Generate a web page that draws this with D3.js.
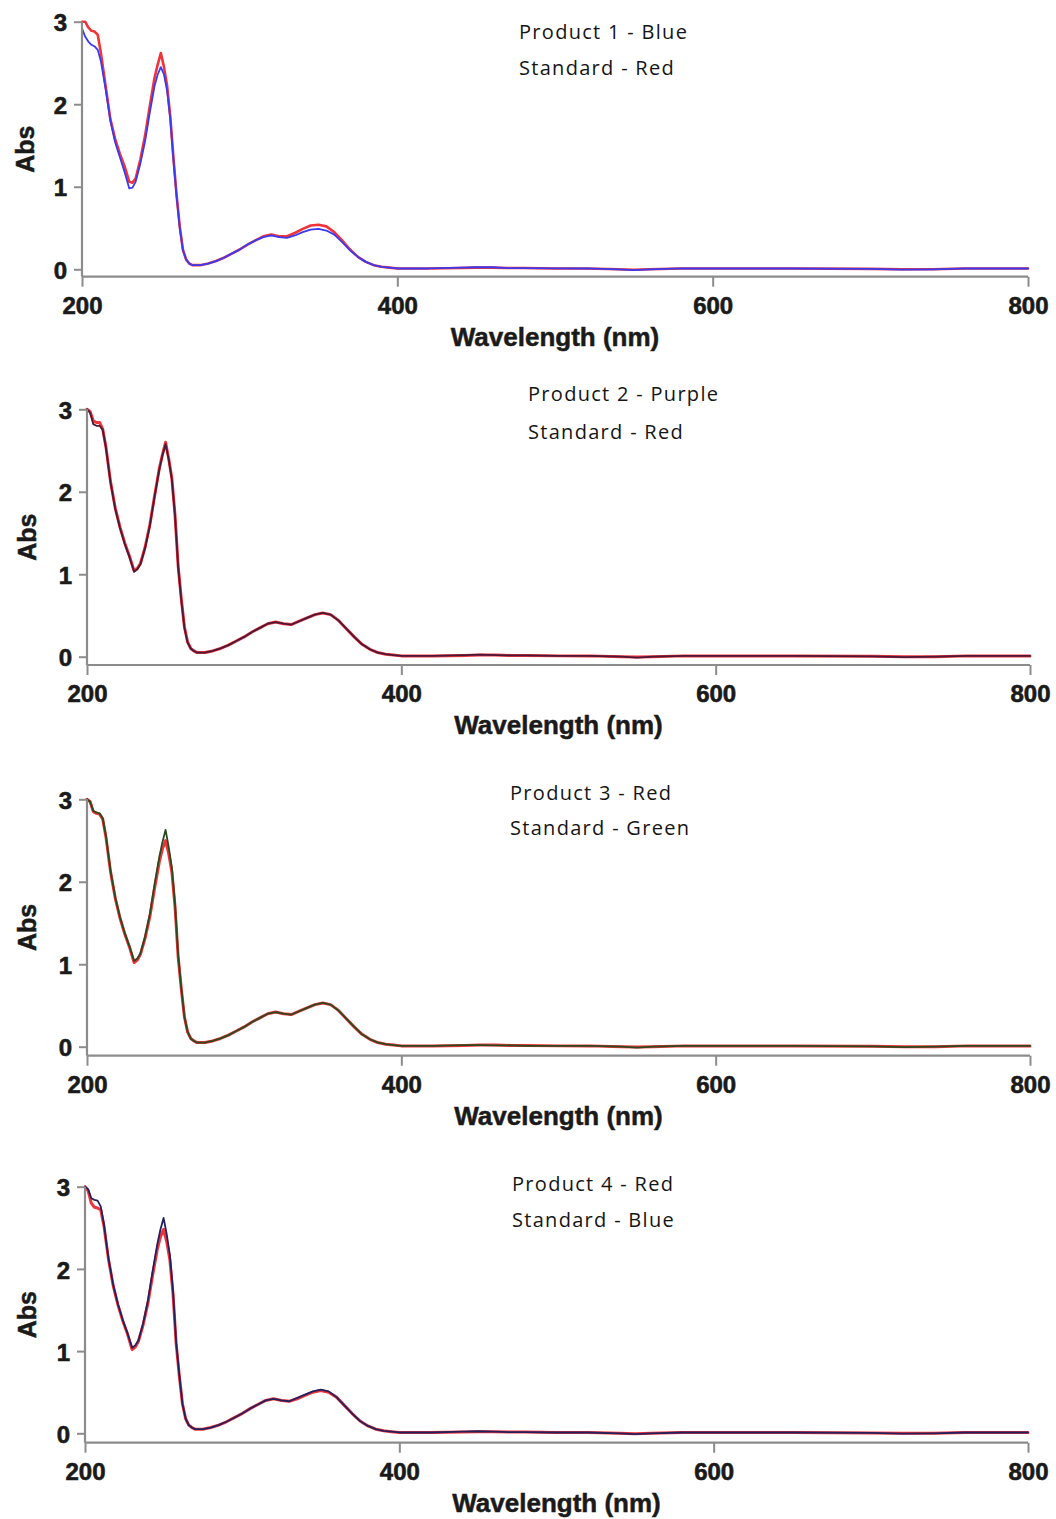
<!DOCTYPE html>
<html><head><meta charset="utf-8">
<script src="https://cdn.jsdelivr.net/npm/d3@7"></script>
<style>body{margin:0;background:#fff}</style>
</head><body>
<svg id="chart" width="1056" height="1519"></svg>
<script>
// ---------- DATA ----------
const wavelengths = [200,202,204,206,208,210,212,215,218,221,224,227,230,232,234,237,240,243,246,248,250,252,254,256,258,260,262,264,266,268,270,275,280,285,290,295,300,305,310,315,320,325,330,335,340,345,350,355,360,365,370,375,380,385,390,395,400,420,440,450,460,470,480,500,520,540,550,560,580,600,650,700,720,740,760,800];
const xTicks = [200,400,600,800];
const yTicks = [0,1,2,3];

const p1Product = [2.92,2.82,2.76,2.72,2.70,2.66,2.52,2.18,1.80,1.54, 1.36,1.18,0.98,0.99,1.06,1.28,1.55,1.90,2.22,2.36, 2.45,2.36,2.16,1.82,1.32,0.88,0.50,0.23,0.12,0.07, 0.05,0.05,0.07,0.10,0.14,0.19,0.24,0.30,0.35,0.39, 0.41,0.39,0.38,0.41,0.45,0.48,0.49,0.47,0.42,0.33, 0.23,0.15,0.09,0.05,0.03,0.02,0.01,0.01,0.02,0.025, 0.025,0.015,0.015,0.01,0.01,0.0,-0.01,0.0,0.01,0.01, 0.01,0.005,-0.005,0.0,0.01,0.01];
const p1Standard = [3.00,3.00,2.93,2.89,2.88,2.84,2.62,2.22,1.82,1.58, 1.40,1.25,1.06,1.05,1.10,1.33,1.62,1.98,2.32,2.48, 2.62,2.45,2.22,1.85,1.35,0.90,0.52,0.24,0.12,0.07, 0.05,0.05,0.07,0.10,0.14,0.19,0.24,0.30,0.35,0.40, 0.42,0.40,0.40,0.44,0.49,0.53,0.54,0.52,0.45,0.35, 0.24,0.15,0.09,0.05,0.03,0.02,0.01,0.01,0.015,0.02, 0.02,0.015,0.015,0.01,0.01,0.0,-0.005,0.0,0.01,0.01, 0.01,0.005,0.0,0.0,0.01,0.01];

const p2Product = [3.00,2.96,2.82,2.80,2.80,2.75,2.54,2.11,1.79,1.56, 1.37,1.21,1.03,1.06,1.12,1.32,1.59,1.94,2.27,2.44, 2.58,2.39,2.15,1.71,1.09,0.69,0.35,0.17,0.10,0.07, 0.05,0.05,0.07,0.10,0.14,0.19,0.24,0.30,0.35,0.40, 0.42,0.40,0.39,0.43,0.47,0.51,0.53,0.51,0.44,0.34, 0.24,0.15,0.09,0.05,0.03,0.02,0.01,0.01,0.02,0.025, 0.02,0.015,0.015,0.01,0.01,0.0,-0.01,0.0,0.01,0.01, 0.01,0.005,-0.005,0.0,0.01,0.01];
const p2Standard = [3.00,2.97,2.86,2.84,2.84,2.76,2.55,2.12,1.80,1.57, 1.38,1.22,1.04,1.07,1.13,1.33,1.60,1.95,2.28,2.45, 2.60,2.40,2.16,1.72,1.10,0.70,0.36,0.18,0.10,0.07, 0.05,0.05,0.07,0.10,0.14,0.19,0.24,0.30,0.35,0.40, 0.42,0.40,0.39,0.43,0.47,0.51,0.53,0.51,0.44,0.34, 0.24,0.15,0.09,0.05,0.03,0.02,0.01,0.01,0.015,0.02, 0.02,0.015,0.015,0.01,0.01,0.0,-0.005,0.0,0.01,0.01, 0.01,0.005,0.0,0.0,0.01,0.01];

const p3Product = [3.00,2.97,2.85,2.83,2.82,2.76,2.55,2.12,1.80,1.56, 1.37,1.21,1.02,1.05,1.12,1.32,1.58,1.92,2.24,2.40, 2.50,2.34,2.12,1.70,1.09,0.70,0.36,0.18,0.10,0.07, 0.05,0.05,0.07,0.10,0.14,0.19,0.24,0.30,0.35,0.40, 0.42,0.40,0.39,0.43,0.47,0.51,0.53,0.51,0.44,0.34, 0.24,0.15,0.09,0.05,0.03,0.02,0.01,0.01,0.015,0.02, 0.02,0.015,0.015,0.01,0.01,0.0,-0.005,0.0,0.01,0.01, 0.01,0.005,0.0,0.0,0.01,0.01];
const p3Standard = [3.00,2.97,2.86,2.84,2.83,2.77,2.56,2.13,1.81,1.57, 1.38,1.22,1.04,1.07,1.13,1.34,1.61,1.97,2.30,2.48, 2.63,2.42,2.17,1.73,1.11,0.71,0.36,0.18,0.10,0.07, 0.05,0.05,0.07,0.10,0.14,0.19,0.24,0.30,0.35,0.40, 0.42,0.40,0.39,0.43,0.47,0.51,0.53,0.51,0.44,0.34, 0.24,0.15,0.09,0.05,0.03,0.02,0.01,0.01,0.02,0.02, 0.015,0.015,0.01,0.01,0.01,0.0,-0.01,0.0,0.01,0.01, 0.01,0.005,-0.005,0.0,0.01,0.01];

const p4Product = [3.00,2.95,2.80,2.75,2.74,2.72,2.53,2.11,1.79,1.56, 1.37,1.21,1.02,1.05,1.12,1.32,1.58,1.92,2.24,2.39, 2.48,2.33,2.11,1.70,1.09,0.70,0.36,0.18,0.10,0.07, 0.05,0.05,0.07,0.10,0.14,0.19,0.24,0.30,0.35,0.40, 0.42,0.40,0.39,0.42,0.46,0.50,0.52,0.50,0.44,0.34, 0.24,0.15,0.09,0.05,0.03,0.02,0.01,0.01,0.015,0.02, 0.02,0.015,0.015,0.01,0.01,0.0,-0.005,0.0,0.01,0.01, 0.01,0.005,0.0,0.0,0.01,0.01];
const p4Standard = [3.00,2.97,2.86,2.84,2.83,2.76,2.55,2.12,1.80,1.57, 1.38,1.22,1.04,1.07,1.13,1.34,1.61,1.97,2.30,2.48, 2.62,2.42,2.17,1.73,1.11,0.71,0.36,0.18,0.10,0.07, 0.05,0.05,0.07,0.10,0.14,0.19,0.24,0.30,0.35,0.40, 0.42,0.40,0.39,0.43,0.47,0.51,0.53,0.51,0.44,0.34, 0.24,0.15,0.09,0.05,0.03,0.02,0.01,0.01,0.02,0.025, 0.02,0.015,0.015,0.01,0.01,0.0,-0.01,0.0,0.01,0.01, 0.01,0.005,-0.005,0.0,0.01,0.01];

const noteLines = [
  ["Product 1 - Blue", "Standard - Red"],
  ["Product 2 - Purple", "Standard - Red"],
  ["Product 3 - Red", "Standard - Green"],
  ["Product 4 - Red", "Standard - Blue"]
];
const xTitle = "Wavelength (nm)";
const yTitle = "Abs";

// ---------- LAYOUT / STYLE ----------
const RED = "#f0343a";
const panels = [
  {x0:82, x1:1028, y3:21.7,  yZero:269.3,  axisY:276.7,  noteX:519, noteY:[39,75],
   series:[{v:p1Standard,c:RED,w:2.6},{v:p1Product,c:"#3a3af0",w:1.8}]},
  {x0:87, x1:1030, y3:409.3, yZero:656.7,  axisY:665,    noteX:528, noteY:[401,439],
   series:[{v:p2Standard,c:RED,w:3.0},{v:p2Product,c:"#4a1838",w:1.8}]},
  {x0:87, x1:1030, y3:799.3, yZero:1046.7, axisY:1055.7, noteX:510, noteY:[800,835],
   series:[{v:p3Product,c:RED,w:3.0},{v:p3Standard,c:"#2a4a1e",w:1.8}]},
  {x0:85, x1:1028, y3:1186.7,yZero:1433.3, axisY:1442.7, noteX:512, noteY:[1191,1227],
   series:[{v:p4Product,c:RED,w:3.0},{v:p4Standard,c:"#24205e",w:1.8}]}
];

const svg = d3.select("#chart");
const AXIS = "#8c8c8c";
const INK = "#1a1a1a";
const labelFont = "'Liberation Sans', Arial, sans-serif";

panels.forEach((p, i) => {
  const x = d3.scaleLinear().domain([200, 800]).range([p.x0, p.x1]);
  const y = d3.scaleLinear().domain([0, 3]).range([p.yZero, p.y3]);
  const g = svg.append("g");

  // lines
  const line = d3.line().x((d, k) => x(wavelengths[k])).y(d => y(d));
  p.series.forEach(s => {
    g.append("path").datum(s.v).attr("d", line)
      .attr("fill", "none").attr("stroke", s.c).attr("stroke-width", s.w)
      .attr("stroke-linejoin", "round").attr("stroke-linecap", "round");
  });

  // x axis
  const xa = g.append("g").attr("transform", `translate(0,${p.axisY})`)
    .call(d3.axisBottom(x).tickValues(xTicks).tickSize(10).tickPadding(10).tickFormat(d3.format("d")));
  xa.select(".domain").remove();
  xa.selectAll(".tick line").attr("stroke", AXIS).attr("stroke-width", 2);
  xa.selectAll(".tick text").attr("font-family", labelFont).attr("font-weight", "bold")
    .attr("font-size", 24).attr("fill", INK).attr("stroke", INK).attr("stroke-width", 0.6)
    .attr("dy", "0.71em");
  g.append("line").attr("x1", p.x0).attr("x2", p.x1).attr("y1", p.axisY).attr("y2", p.axisY)
    .attr("stroke", AXIS).attr("stroke-width", 2.2);

  // y axis
  const ya = g.append("g").attr("transform", `translate(${p.x0},0)`)
    .call(d3.axisLeft(y).tickValues(yTicks).tickSize(8).tickPadding(7).tickFormat(d3.format("d")));
  ya.select(".domain").remove();
  ya.selectAll(".tick line").attr("stroke", AXIS).attr("stroke-width", 2);
  ya.selectAll(".tick text").attr("font-family", labelFont).attr("font-weight", "bold")
    .attr("font-size", 24).attr("fill", INK).attr("stroke", INK).attr("stroke-width", 0.6)
    .attr("dy", "0.38em");
  g.append("line").attr("x1", p.x0).attr("x2", p.x0).attr("y1", p.y3).attr("y2", p.axisY)
    .attr("stroke", AXIS).attr("stroke-width", 2.2);

  // titles
  g.append("text").attr("x", (p.x0 + p.x1) / 2).attr("y", p.axisY + 69)
    .attr("text-anchor", "middle").attr("font-family", labelFont).attr("font-weight", "bold")
    .attr("font-size", 26).attr("fill", INK).attr("stroke", INK).attr("stroke-width", 0.5)
    .text(xTitle);
  const cy = (p.y3 + p.axisY) / 2;
  g.append("text").attr("transform", `translate(${34 + (i ? 2 : 0)},${cy}) rotate(-90)`)
    .attr("text-anchor", "middle").attr("font-family", labelFont).attr("font-weight", "bold")
    .attr("font-size", 25).attr("fill", INK).attr("stroke", INK).attr("stroke-width", 0.5)
    .text(yTitle);

  // annotation
  noteLines[i].forEach((t, k) => {
    g.append("text").attr("x", p.noteX).attr("y", p.noteY[k])
      .attr("font-family", "'Open Sans', sans-serif").attr("font-size", 20)
      .attr("letter-spacing", 1.3).attr("fill", "#151515").text(t);
  });
});
</script>
</body></html>
